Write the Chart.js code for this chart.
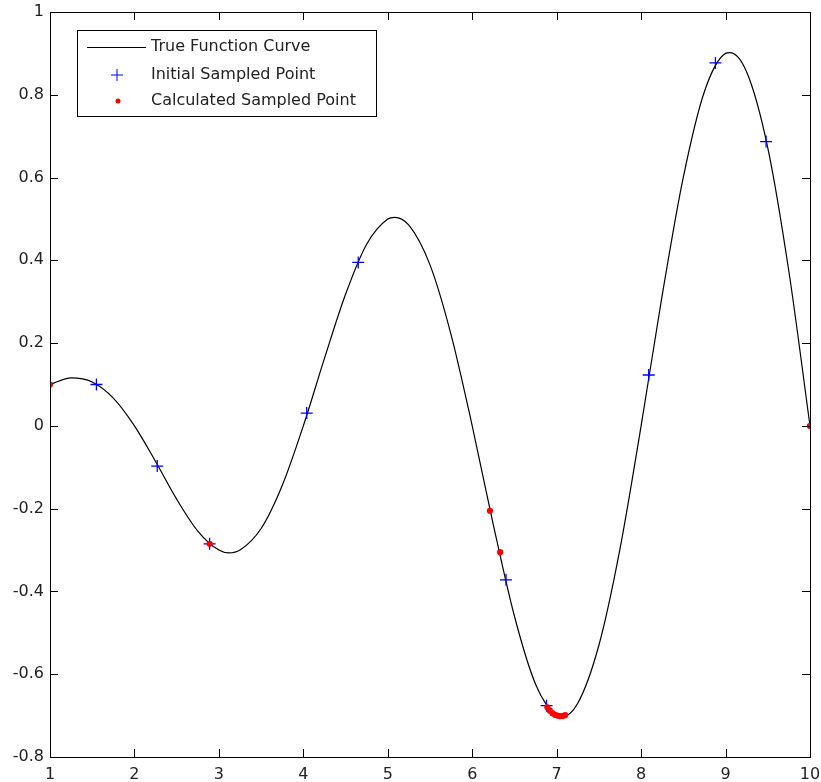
<!DOCTYPE html>
<html>
  <head>
    <title>True function and sampled points</title>
    <script src="https://cdn.jsdelivr.net/npm/chart.js"></script>
    <style>
      body { margin: 0; background: #fff; }
    </style>
  </head>
  <body>
    <canvas id="fnChart" width="821" height="782"></canvas>
    <script>
      // values
      var curveX = [1, 1.25, 1.5, 1.75, 2, 2.25, 2.5, 2.75, 3, 3.12, 3.25, 3.5, 3.75, 4,
        4.25, 4.5, 4.75, 5, 5.08, 5.25, 5.5, 5.75, 6, 6.25, 6.5, 6.75, 7, 7.06, 7.25,
        7.5, 7.75, 8, 8.25, 8.5, 8.75, 9, 9.05, 9.25, 9.5, 9.75, 10];
      var curveY = [0.100, 0.116, 0.106, 0.067, 0.000, -0.086, -0.177, -0.254, -0.300, -0.307,
        -0.300, -0.248, -0.144, 0.000, 0.163, 0.318, 0.439, 0.500, 0.504, 0.485, 0.389,
        0.220, 0.000, -0.239, -0.460, -0.624, -0.700, -0.703, -0.670, -0.530, -0.297,
        0.000, 0.316, 0.601, 0.808, 0.900, 0.902, 0.855, 0.672, 0.373, 0.000];

      var initX = [1.55, 2.27, 2.89, 4.04, 4.65, 6.40, 6.88, 8.09, 8.88, 9.48];
      var initY = [0.100, -0.097, -0.285, 0.031, 0.395, -0.372, -0.676, 0.123, 0.877, 0.687];

      var calcX = [1.0, 2.89, 6.21, 6.33, 6.89, 6.92, 6.95, 6.98, 7.01, 7.04, 7.07, 7.10, 10.0];
      var calcY = [0.100, -0.285, -0.205, -0.305, -0.680, -0.688, -0.694, -0.698, -0.700,
        -0.701, -0.701, -0.699, 0.000];

      var xTicks = [1, 2, 3, 4, 5, 6, 7, 8, 9, 10];
      var yTicks = [-0.8, -0.6, -0.4, -0.2, 0, 0.2, 0.4, 0.6, 0.8, 1];

      var seriesNames = ["True Function Curve", "Initial Sampled Point", "Calculated Sampled Point"];

      function toPoints(xs, ys) {
        return xs.map(function (x, i) { return { x: x, y: ys[i] }; });
      }

      var fontFamily = "'DejaVu Sans', sans-serif";

      // box round the plot with inward ticks on all four sides
      var boxPlugin = {
        id: "matBox",
        afterDraw: function (chart) {
          var ctx = chart.ctx;
          var a = chart.chartArea;
          var sx = chart.scales.x;
          var sy = chart.scales.y;
          var len = 8;
          ctx.save();
          ctx.strokeStyle = "#000";
          ctx.lineWidth = 1;
          ctx.beginPath();
          xTicks.forEach(function (v) {
            var px = Math.round(sx.getPixelForValue(v)) + 0.5;
            ctx.moveTo(px, a.bottom);
            ctx.lineTo(px, a.bottom - len);
            ctx.moveTo(px, a.top);
            ctx.lineTo(px, a.top + len);
          });
          yTicks.forEach(function (v) {
            var py = Math.round(sy.getPixelForValue(v)) + 0.5;
            ctx.moveTo(a.left, py);
            ctx.lineTo(a.left + len, py);
            ctx.moveTo(a.right, py);
            ctx.lineTo(a.right - len, py);
          });
          ctx.stroke();
          ctx.strokeRect(Math.round(a.left) + 0.5, Math.round(a.top) + 0.5,
            Math.round(a.right - a.left), Math.round(a.bottom - a.top));

          // legend box in the top left corner
          var lx = a.left + 27, ly = a.top + 18, lw = 299, lh = 86;
          ctx.fillStyle = "#fff";
          ctx.fillRect(lx, ly, lw, lh);
          ctx.strokeRect(Math.round(lx) + 0.5, Math.round(ly) + 0.5, lw, lh);
          var rows = [ly + 17, ly + 45, ly + 71];
          ctx.beginPath();
          ctx.moveTo(lx + 10, rows[0] + 0.5);
          ctx.lineTo(lx + 69, rows[0] + 0.5);
          ctx.stroke();
          ctx.strokeStyle = "#0000ff";
          ctx.beginPath();
          ctx.moveTo(lx + 34, rows[1]);
          ctx.lineTo(lx + 46, rows[1]);
          ctx.moveTo(lx + 40, rows[1] - 6);
          ctx.lineTo(lx + 40, rows[1] + 6);
          ctx.stroke();
          ctx.fillStyle = "#ff0000";
          ctx.beginPath();
          ctx.arc(lx + 41, rows[2], 2.5, 0, Math.PI * 2);
          ctx.fill();
          ctx.fillStyle = "#222";
          ctx.font = "16px " + fontFamily;
          ctx.textBaseline = "middle";
          ctx.textAlign = "left";
          seriesNames.forEach(function (name, i) {
            ctx.fillText(name, lx + 74, rows[i]);
          });
          ctx.restore();
        }
      };

      var ctx = document.getElementById("fnChart").getContext("2d");
      var fnChart = new Chart(ctx, {
        type: "scatter",
        data: {
          datasets: [
            {
              label: seriesNames[0],
              data: toPoints(curveX, curveY),
              showLine: true,
              borderColor: "#000",
              borderWidth: 1.2,
              pointRadius: 0,
              cubicInterpolationMode: "monotone",
              order: 3,
            },
            {
              label: seriesNames[1],
              data: toPoints(initX, initY),
              pointStyle: "cross",
              pointRadius: 6,
              borderColor: "#0000ff",
              borderWidth: 1.3,
              order: 2,
            },
            {
              label: seriesNames[2],
              data: toPoints(calcX, calcY),
              pointStyle: "circle",
              pointRadius: 3.1,
              backgroundColor: "#ff0000",
              borderColor: "#ff0000",
              borderWidth: 0,
              order: 1,
            },
          ],
        },
        options: {
          responsive: false,
          animation: false,
          devicePixelRatio: 1,
          layout: { padding: { top: 12, right: 11, left: 0, bottom: 0 } },
          plugins: {
            legend: { display: false },
            tooltip: { enabled: false },
          },
          scales: {
            x: {
              type: "linear",
              min: 1,
              max: 10,
              afterBuildTicks: function (scale) {
                scale.ticks = xTicks.map(function (v) { return { value: v }; });
              },
              afterFit: function (scale) {
                scale.height = 25;
                scale.paddingLeft = 0;
                scale.paddingRight = 0;
              },
              grid: { display: false, drawTicks: false },
              border: { display: false },
              ticks: {
                padding: 8,
                color: "#222",
                font: { family: fontFamily, size: 16 },
                maxRotation: 0,
                callback: function (v) { return String(v); },
              },
            },
            y: {
              type: "linear",
              min: -0.8,
              max: 1,
              afterBuildTicks: function (scale) {
                scale.ticks = yTicks.map(function (v) { return { value: v }; });
              },
              afterFit: function (scale) {
                scale.width = 50;
                scale.paddingTop = 0;
                scale.paddingBottom = 0;
              },
              grid: { display: false, drawTicks: false },
              border: { display: false },
              ticks: {
                padding: 6,
                color: "#222",
                font: { family: fontFamily, size: 16 },
                callback: function (v) { return String(Math.round(v * 10) / 10); },
              },
            },
          },
        },
        plugins: [boxPlugin],
      });
    </script>
  </body>
</html>
